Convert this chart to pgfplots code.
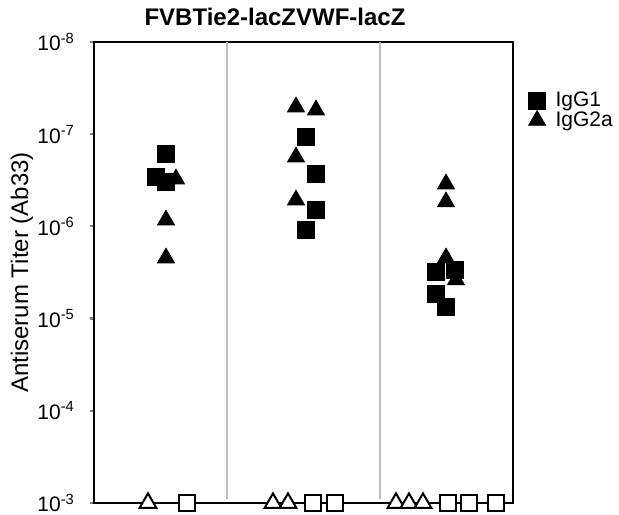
\documentclass[border=0pt]{standalone}
\usepackage{fontspec}
\setmainfont{Liberation Sans}
\usepackage{pgfplots}
\pgfplotsset{compat=1.18}
\definecolor{sep}{HTML}{BDBDBD}

% x is measured in the reference's pixel columns, y is the titer itself
\pgfplotstableread{
x y
166 1.64e-7
156 2.91e-7
166 3.30e-7
306 1.07e-7
316 2.70e-7
316 6.64e-7
306 1.09e-6
436 3.13e-6
455 2.97e-6
436 5.41e-6
446 7.48e-6
}\igga
\pgfplotstableread{
x y
176 3.06e-7
166 8.53e-7
166 2.20e-6
296 5.07e-8
316 5.47e-8
296 1.77e-7
296 5.18e-7
446 3.47e-7
446 5.43e-7
446 2.20e-6
456 3.81e-6
}\iggb
% not detected: plotted on the 10^-3 line
\pgfplotstableread{
x y
187 1e-3
313 1e-3
335 1e-3
448 1e-3
469 1e-3
496 1e-3
}\ndsq
\pgfplotstableread{
x y
148 1e-3
273 1e-3
288 1e-3
396 1e-3
409 1e-3
423 1e-3
}\ndtri

\begin{document}
\begin{tikzpicture}
\begin{axis}[
  scale only axis, width=209.5pt, height=230.5pt,
  xmin=94, xmax=513,
  ymode=log, y dir=reverse, ymin=1e-8, ymax=1e-3,
  xtick=\empty,
  ytick={1e-8,1e-7,1e-6,1e-5,1e-4,1e-3},
  yticklabels={10\textsuperscript{-8},10\textsuperscript{-7},10\textsuperscript{-6},
    10\textsuperscript{-5},10\textsuperscript{-4},10\textsuperscript{-3}},
  yminorticks=false, ytick pos=left, tick align=outside,
  major tick length=2pt,
  axis line style={line width=1.1pt},
  ytick style={line width=1.1pt},
  yticklabel style={font=\fontsize{10.5}{12}\selectfont, inner ysep=0pt, xshift=-4pt},
  ylabel={Antiserum Titer (Ab33)},
  ylabel style={font=\fontsize{12}{14}\selectfont,
    at={(axis description cs:-0.172,0.5)}, anchor=center},
  title={\textbf{FVBTie2-lacZVWF-lacZ}},
  every axis title shift=0pt,
  title style={font=\fontsize{12}{14}\selectfont, at={(axis description cs:0.432,1)},
    anchor=base, inner sep=0pt, yshift=8pt},
  legend style={at={(axis description cs:1.022,0.91)}, anchor=north west,
    draw=none, fill=none, font=\fontsize{10.5}{12}\selectfont,
    row sep=-3pt, /tikz/every odd column/.append style={column sep=3pt}},
  legend cell align=left,
  clip=false,
]
\draw[sep, line width=0.6pt] (axis cs:227,1e-8) -- (axis cs:227,9.1e-4);
\draw[sep, line width=0.6pt] (axis cs:380,1e-8) -- (axis cs:380,9.1e-4);
\addplot[only marks, mark=square*, mark size=4.25pt, black] table {\igga};
\addlegendentry{IgG1}
\addplot[only marks, mark=triangle*, mark size=4.9pt, black] table {\iggb};
\addlegendentry{IgG2a}
\addplot[only marks, mark=square*, mark size=4.1pt, draw=black, fill=white,
  mark options={line width=1pt}, forget plot] table {\ndsq};
\addplot[only marks, mark=triangle*, mark size=4.8pt, draw=black, fill=white,
  mark options={line width=1pt}, forget plot] table {\ndtri};
\coordinate (bbsw) at (rel axis cs:-0.2243,-0.0239);
\coordinate (bbne) at (rel axis cs:1.253,1.0911);
\end{axis}
\pgfresetboundingbox
\useasboundingbox (bbsw) rectangle (bbne);
\end{tikzpicture}
\end{document}
